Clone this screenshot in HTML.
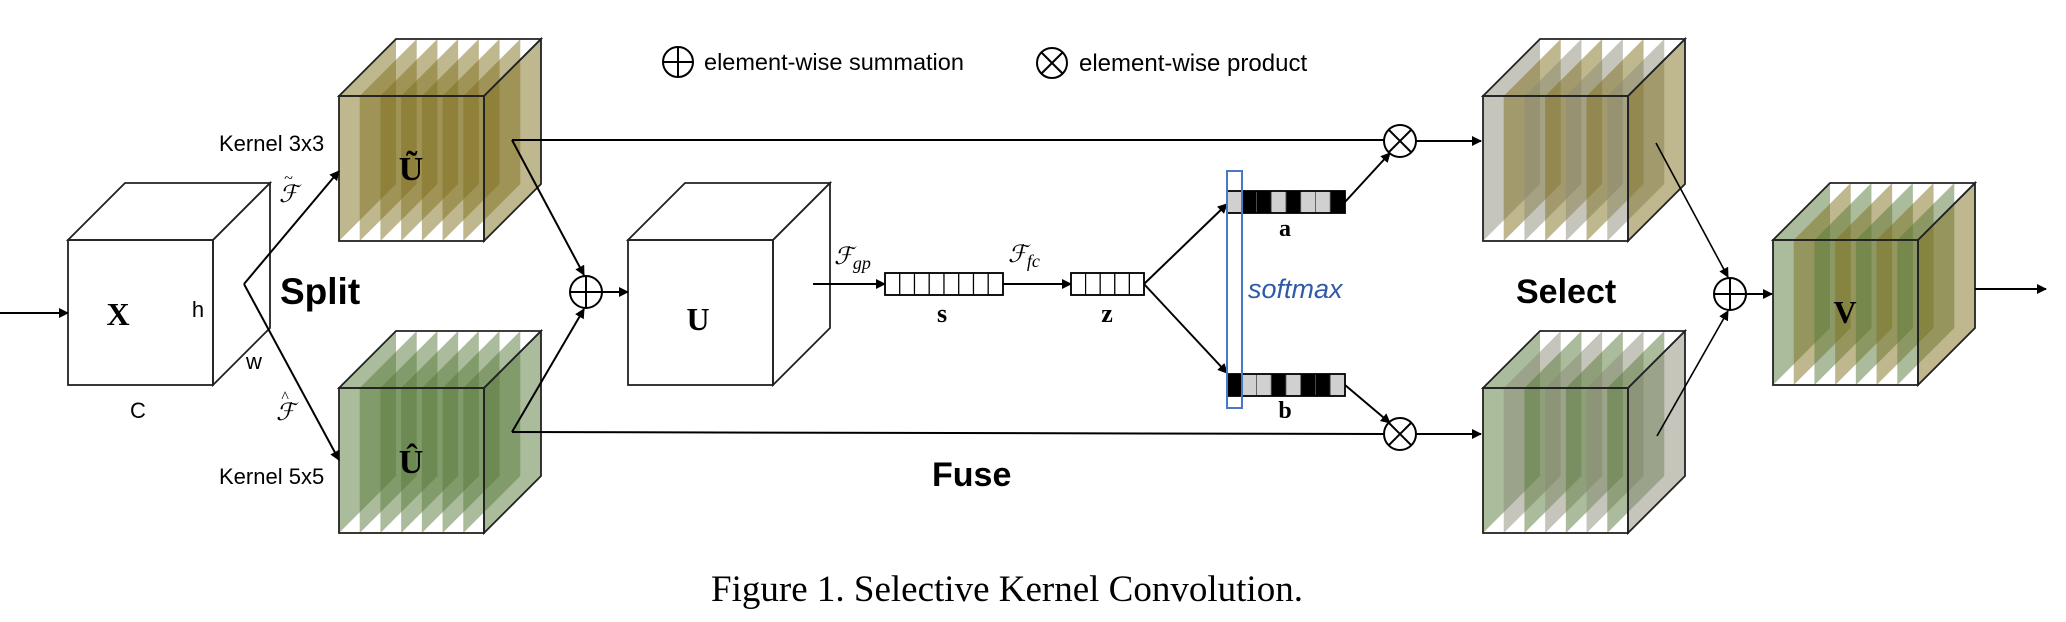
<!DOCTYPE html>
<html><head><meta charset="utf-8">
<style>
html,body{margin:0;padding:0;background:#fff;}
svg{display:block;}
text{font-family:"Liberation Sans",sans-serif;}
.serif{font-family:"Liberation Serif",serif;}
</style></head>
<body>
<svg id="s" width="2066" height="622" viewBox="0 0 2066 622" xmlns="http://www.w3.org/2000/svg">
<defs>
<marker id="ar" markerWidth="10" markerHeight="10" refX="9" refY="5" orient="auto" markerUnits="userSpaceOnUse">
<path d="M0,0 L10,5 L0,10 z" fill="#000"/>
</marker>
</defs>
<g id="cubes"></g>
<g stroke="#000" stroke-width="2" fill="none">
<line x1="0" y1="313" x2="68" y2="313" marker-end="url(#ar)"/>
<line x1="244" y1="284" x2="339" y2="460" marker-end="url(#ar)"/>
<line x1="244" y1="284" x2="339" y2="171" marker-end="url(#ar)"/>
<line x1="512" y1="140" x2="1384" y2="140"/>
<line x1="512" y1="140" x2="584" y2="275" marker-end="url(#ar)"/>
<line x1="512" y1="432" x2="1384" y2="434"/>
<line x1="512" y1="432" x2="584" y2="309" marker-end="url(#ar)"/>
<circle cx="586" cy="292" r="16"/>
<line x1="570" y1="292" x2="602" y2="292"/><line x1="586" y1="276" x2="586" y2="308"/>
<line x1="602" y1="292" x2="628" y2="292" marker-end="url(#ar)"/>
<line x1="813" y1="284" x2="885" y2="284" marker-end="url(#ar)"/>
<line x1="1003" y1="284" x2="1071" y2="284" marker-end="url(#ar)"/>
<line x1="1144" y1="284" x2="1227" y2="204" marker-end="url(#ar)"/>
<line x1="1144" y1="284" x2="1227" y2="373" marker-end="url(#ar)"/>
<line x1="1345" y1="202" x2="1390" y2="153" marker-end="url(#ar)"/>
<line x1="1345" y1="385" x2="1390" y2="423" marker-end="url(#ar)"/>
<circle cx="1400" cy="141" r="16"/><line x1="1389" y1="130" x2="1411" y2="152"/><line x1="1411" y1="130" x2="1389" y2="152"/>
<circle cx="1400" cy="434" r="16"/><line x1="1389" y1="423" x2="1411" y2="445"/><line x1="1411" y1="423" x2="1389" y2="445"/>
<line x1="1416" y1="141" x2="1481" y2="141" marker-end="url(#ar)"/>
<line x1="1416" y1="434" x2="1481" y2="434" marker-end="url(#ar)"/>
<circle cx="1730" cy="294" r="16"/>
<line x1="1714" y1="294" x2="1746" y2="294"/><line x1="1730" y1="278" x2="1730" y2="310"/>
<line x1="1746" y1="294" x2="1772" y2="294" marker-end="url(#ar)"/>
<line x1="1975" y1="289" x2="2046" y2="289" marker-end="url(#ar)"/>
<circle cx="678" cy="62" r="15"/><line x1="663" y1="62" x2="693" y2="62"/><line x1="678" y1="47" x2="678" y2="77"/>
<circle cx="1052" cy="63" r="15"/><line x1="1041" y1="52" x2="1063" y2="74"/><line x1="1063" y1="52" x2="1041" y2="74"/>
</g>
<g id="bars"></g>
<g stroke="#000" stroke-width="1.6">
<line x1="1656" y1="143" x2="1728" y2="277" marker-end="url(#ar)"/>
<line x1="1657" y1="436" x2="1728" y2="311" marker-end="url(#ar)"/>
</g>
<rect x="1227" y="171" width="15" height="237" fill="none" stroke="#4a78c8" stroke-width="2"/>
<text x="704" y="70" font-size="23.5">element-wise summation</text>
<text x="1079" y="71" font-size="24">element-wise product</text>
<text x="219" y="151" font-size="22">Kernel 3x3</text>
<text x="219" y="484" font-size="22">Kernel 5x5</text>
<text x="198" y="317" font-size="22" text-anchor="middle">h</text>
<text x="254" y="369" font-size="22" text-anchor="middle">w</text>
<text x="138" y="418" font-size="22" text-anchor="middle">C</text>
<text x="280" y="304" font-size="37" font-weight="bold">Split</text>
<text x="932" y="486" font-size="34" font-weight="bold">Fuse</text>
<text x="1516" y="303" font-size="34" font-weight="bold">Select</text>
<text x="1248" y="298" font-size="27" font-style="italic" fill="#2f5aa8">softmax</text>
<g font-weight="bold">
<text class="serif" x="118" y="325" font-size="32" text-anchor="middle">X</text>
<text class="serif" x="411" y="180" font-size="34" text-anchor="middle">Ũ</text>
<text class="serif" x="411" y="473" font-size="34" text-anchor="middle">Û</text>
<text class="serif" x="698" y="330" font-size="32" text-anchor="middle">U</text>
<text class="serif" x="1845" y="323" font-size="32" text-anchor="middle">V</text>
<text class="serif" x="942" y="322" font-size="26" text-anchor="middle">s</text>
<text class="serif" x="1107" y="322" font-size="26" text-anchor="middle">z</text>
<text class="serif" x="1285" y="236" font-size="24" text-anchor="middle">a</text>
<text class="serif" x="1285" y="418" font-size="24" text-anchor="middle">b</text>
</g>
<g font-style="italic" font-size="24">
<text class="serif" x="279" y="202">ℱ</text><text class="serif" x="284" y="183" font-size="16">~</text>
<text class="serif" x="276" y="420">ℱ</text><text class="serif" x="281" y="402" font-size="16">^</text>
<text class="serif" x="834" y="264">ℱ<tspan font-size="18" dy="5">gp</tspan></text>
<text class="serif" x="1008" y="262">ℱ<tspan font-size="18" dy="5">fc</tspan></text>
</g>
<text class="serif" x="1007" y="601" font-size="37" text-anchor="middle">Figure 1. Selective Kernel Convolution.</text>
</svg>
<script>
var NS="http://www.w3.org/2000/svg";
var cubes=document.getElementById("cubes");
function el(t,a,p){var e=document.createElementNS(NS,t);for(var k in a)e.setAttribute(k,a[k]);(p||cubes).appendChild(e);return e;}
function cube(x,y,cols){
 var w=145,h=145,d=57;
 if(cols){
  for(var i=0;i<8;i++){
   var xi=x+i*w/7;
   el("polygon",{points:xi+","+y+" "+(xi+d)+","+(y-d)+" "+(xi+d)+","+(y+h-d)+" "+xi+","+(y+h),fill:cols[i%cols.length],"fill-opacity":0.5,stroke:"none"});
  }
 } else {
  el("rect",{x:x,y:y,width:w,height:h,fill:"#fff"});
 }
 var s={fill:"none",stroke:"#222","stroke-width":1.8};
 el("rect",Object.assign({x:x,y:y,width:w,height:h},s));
 el("polygon",Object.assign({points:x+","+y+" "+(x+d)+","+(y-d)+" "+(x+w+d)+","+(y-d)+" "+(x+w)+","+y},s));
 el("polygon",Object.assign({points:(x+w)+","+y+" "+(x+w+d)+","+(y-d)+" "+(x+w+d)+","+(y+h-d)+" "+(x+w)+","+(y+h)},s));
}
var O="#80701e",G="#587a3a",Gy="#8c8c78";
cube(68,240,null);
cube(339,96,[O]);
cube(339,388,[G]);
cube(628,240,null);
cube(1483,96,[Gy,O]);
cube(1483,388,[G,Gy]);
cube(1773,240,[G,O]);
var bars=document.getElementById("bars");
function bar(x,y,n,w,h,pat){
 for(var i=0;i<n;i++){
  var f=pat?(pat[i]?"#000":"#d0d0d0"):"#fff";
  el("rect",{x:x+i*w,y:y,width:w,height:h,fill:f,stroke:pat?"#555":"#000","stroke-width":pat?0.8:1.2},bars);
 }
 el("rect",{x:x,y:y,width:n*w,height:h,fill:"none",stroke:"#000","stroke-width":1.8},bars);
}
bar(885,273,8,118/8,22,null);
bar(1071,273,5,73/5,22,null);
bar(1227,191,8,118/8,22,[0,1,1,0,1,0,0,1]);
bar(1227,374,8,118/8,22,[1,0,0,1,0,1,1,0]);
</script>
</body></html>
